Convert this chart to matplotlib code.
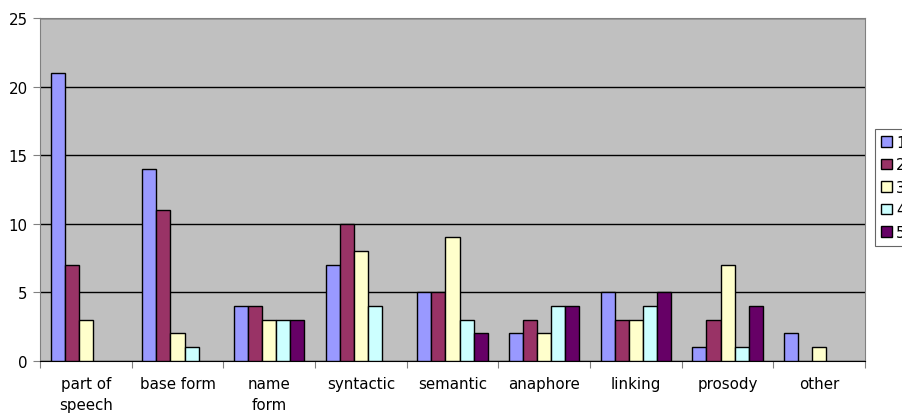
import matplotlib.pyplot as plt
import numpy as np

categories = ["part of\nspeech", "base form", "name\nform", "syntactic", "semantic",
              "anaphore", "linking", "prosody", "other"]
series_names = ["1", "2", "3", "4", "5"]
s1 = [21, 14, 4, 7, 5, 2, 5, 1, 2]
s2 = [7, 11, 4, 10, 5, 3, 3, 3, 0]
s3 = [3, 2, 3, 8, 9, 2, 3, 7, 1]
s4 = [0, 1, 3, 4, 3, 4, 4, 1, 0]
s5 = [0, 0, 3, 0, 2, 4, 5, 4, 0]
colors = ["#9999FF", "#993366", "#FFFFCC", "#CCFFFF", "#660066"]

plt.rcParams['font.family'] = ['DejaVu Sans']
fig = plt.figure(figsize=(9.03, 4.14), dpi=100)
ax = fig.add_axes([0.0443, 0.126, 0.9137, 0.828])
ax.set_facecolor("#C0C0C0")

n = len(series_names)
width = 1.0 / (n + 1.5)
x = np.arange(len(categories)) + 0.5
handles = []
for i, vals in enumerate([s1, s2, s3, s4, s5]):
    offs = (i - (n - 1) / 2) * width
    vals = np.array(vals)
    # zero values draw no bar
    h = ax.bar(x[vals > 0] + offs, vals[vals > 0], width, color=colors[i],
               edgecolor="black", linewidth=1, zorder=3)
    handles.append(h)

ax.set_xlim(0, len(categories))
ax.set_ylim(0, 25)
ax.set_yticks(range(0, 26, 5))
ax.yaxis.grid(True, color="black", linewidth=1, zorder=1)
ax.set_xticks(range(0, len(categories) + 1))
ax.set_xticklabels([])
ax.set_xticks(x, minor=True)
ax.set_xticklabels(categories, minor=True, fontsize=10.8, linespacing=1.45)
ax.tick_params(axis="x", which="minor", length=0, pad=11)
ax.tick_params(axis="x", which="major", length=5, color="#808080")
ax.tick_params(axis="y", length=5, color="#808080", labelsize=10.8, pad=4)

for sp in ["top", "right", "left"]:
    ax.spines[sp].set_color("#808080")
ax.spines["bottom"].set_color("black")

leg = fig.legend(handles, series_names, loc="upper left",
                 bbox_to_anchor=(0.969, 0.686), frameon=True, fancybox=False,
                 fontsize=10.8, handlelength=0.7, handleheight=0.7,
                 handletextpad=0.3, labelspacing=0.5, borderpad=0.4,
                 borderaxespad=0)
leg.get_frame().set_edgecolor("#404040")
leg.get_frame().set_linewidth(0.8)

fig.savefig("out.png", dpi=100)
